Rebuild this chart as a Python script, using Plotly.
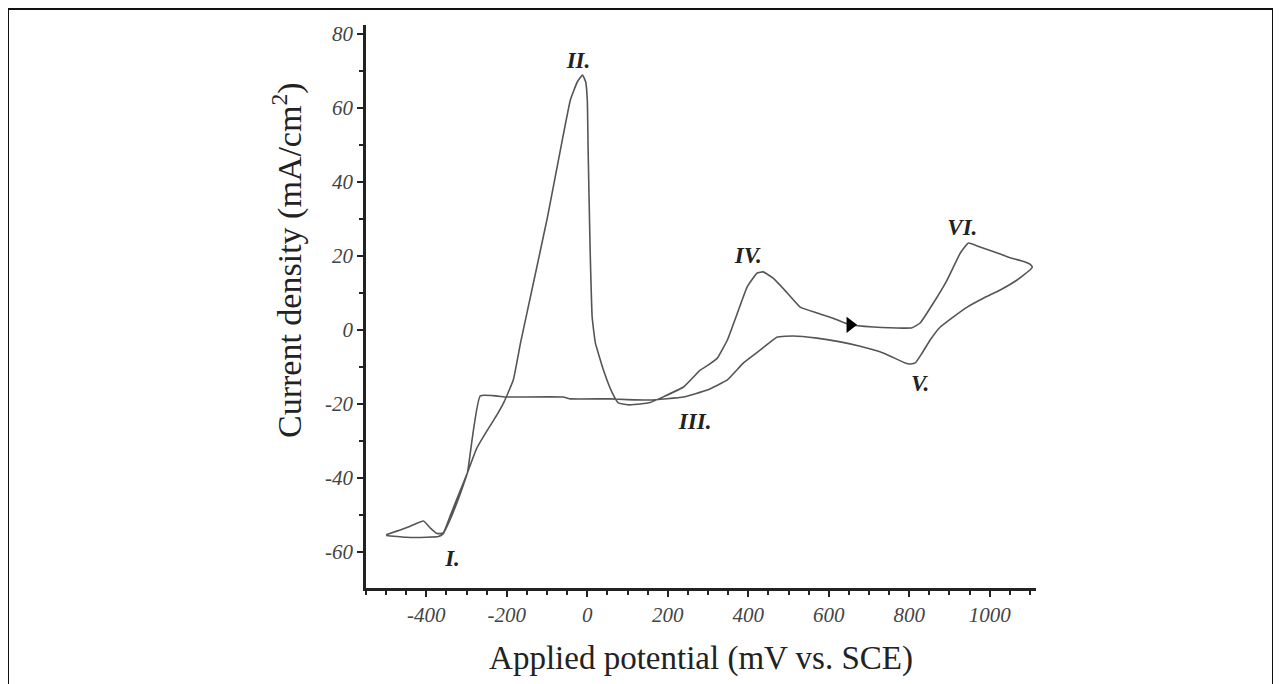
import plotly.graph_objects as go

# Forward (anodic) scan: potential (mV vs SCE), current density (mA/cm2)
fwd_E = [-500, -470, -440, -407, -390, -373, -358, -340, -320, -298, -275, -248, -225, -208,
         -184, -166, -134, -99, -67, -42, -25, -12, -4, 0, 2, 7, 12, 20, 40, 62, 77, 100,
         132, 156, 190, 239, 281, 300, 323, 348, 373, 397, 422, 437, 462, 497, 529, 571,
         611, 653, 711, 790, 807, 827, 860, 894, 927, 947, 976, 1019, 1051, 1075, 1088, 1100, 1106]
fwd_I = [-55.3, -54.2, -53.0, -51.6, -53.5, -55.0, -54.8, -50.0, -44.5, -38.6, -32.0, -27.0, -23.0, -19.7,
         -13.5, -3.5, 12.7, 30.5, 48.6, 62.2, 67.0, 68.9, 67.0, 62.0, 48.6, 21.6, 3.5, -3.5, -10.8, -17.0, -19.7, -20.2,
         -20.0, -19.6, -18.0, -15.4, -10.8, -9.5, -7.6, -2.7, 4.6, 11.6, 15.4, 15.7, 14.0, 10.0, 6.2, 4.6,
         3.2, 1.4, 0.8, 0.5, 0.6, 1.9, 7.3, 13.5, 20.8, 23.5, 22.4, 20.8, 19.5, 18.8, 18.4, 17.8, 17.0]

# Reverse (cathodic) scan
rev_E = [1106, 1100, 1068, 1026, 984, 944, 909, 877, 852, 832, 815, 800, 790, 735, 678, 629,
         571, 512, 472, 430, 388, 348, 298, 239, 156, 100, 57, -42, -60, -200, -266,
         -298, -315, -340, -358, -370, -400, -450, -500]
rev_I = [17.0, 16.2, 13.5, 10.8, 8.6, 6.2, 3.5, 0.8, -2.7, -6.2, -8.9, -9.2, -8.9, -6.2, -4.4, -3.2,
         -2.2, -1.6, -1.9, -5.4, -8.9, -13.5, -16.2, -18.1, -18.9, -18.8, -18.6, -18.6, -18.1, -18.1, -17.8,
         -38.6, -44.0, -51.0, -55.0, -55.8, -56.0, -56.0, -55.5]

# Peak labels
peak_labels = ["I.", "II.", "III.", "IV.", "V.", "VI."]
peak_E = [-335, -22, 268, 400, 827, 932]
peak_I = [-62.2, 72.4, -25.1, 19.7, -14.9, 27.3]

# Scan-direction arrow
arrow_E = [653]
arrow_I = [1.4]

x_ticks = [-400, -200, 0, 200, 400, 600, 800, 1000]
y_ticks = [-60, -40, -20, 0, 20, 40, 60, 80]

fig = go.Figure()
fig.add_trace(go.Scatter(x=fwd_E + rev_E[1:], y=fwd_I + rev_I[1:], mode="lines",
                         line=dict(color="#555555", width=1.6, shape="spline", smoothing=0.35),
                         showlegend=False, hoverinfo="skip"))
fig.add_trace(go.Scatter(x=arrow_E, y=arrow_I, mode="markers",
                         marker=dict(symbol="triangle-right", size=14, color="black"),
                         showlegend=False, hoverinfo="skip"))
fig.add_trace(go.Scatter(x=peak_E, y=peak_I, mode="text", text=peak_labels,
                         textfont=dict(family="Liberation Serif", size=23, color="#222222",
                                       style="italic", weight="bold"),
                         showlegend=False, hoverinfo="skip"))

axis_common = dict(
    showgrid=False, zeroline=False, showline=True, linecolor="#222222", linewidth=2.5,
    ticks="outside", ticklen=6, tickwidth=2, tickcolor="#222222",
    tickfont=dict(family="Liberation Serif", size=21, color="#444444", style="italic"),
)

fig.update_xaxes(range=[-550, 1115], tickvals=x_ticks, ticktext=[str(v) for v in x_ticks],
                 minor=dict(dtick=50, ticks="outside", ticklen=4, tickwidth=1.5, tickcolor="#222222"),
                 title=dict(text="Applied potential (mV vs. SCE)", standoff=20,
                            font=dict(family="Liberation Serif", size=33, color="#222222")),
                 **axis_common)
fig.update_yaxes(range=[-69.7, 82.4], tickvals=y_ticks, ticktext=[str(v) for v in y_ticks],
                 minor=dict(dtick=10, ticks="outside", ticklen=4, tickwidth=1.5, tickcolor="#222222"),
                 **axis_common)

# page has an 8px body margin: compensate so the plot lands where the reference's does
W, H = 1281, 684
L, T = 358, 17
pw, ph = 670, 563
R, B = W - L - pw, H - T - ph

# y-axis title placed as in the reference (above the plot's vertical centre)
fig.add_annotation(text="Current density (mA/cm<sup>2</sup>)", textangle=-90,
                   xref="paper", yref="paper", x=(279 - L) / pw, y=(T + ph - 252) / ph,
                   xanchor="center", yanchor="middle", showarrow=False,
                   font=dict(family="Liberation Serif", size=34, color="#222222"))

fig.add_shape(type="rect", xref="paper", yref="paper",
              x0=(0 - L) / pw, x1=(1265 - L) / pw,
              y0=(H - B - 720) / ph, y1=(H - B - 1) / ph,
              line=dict(color="#111111", width=2), fillcolor="rgba(0,0,0,0)", layer="below")

fig.update_layout(width=W, height=H, margin=dict(l=L, r=R, t=T, b=B, autoexpand=False),
                  paper_bgcolor="white", plot_bgcolor="white")

fig.write_html("out.html")
